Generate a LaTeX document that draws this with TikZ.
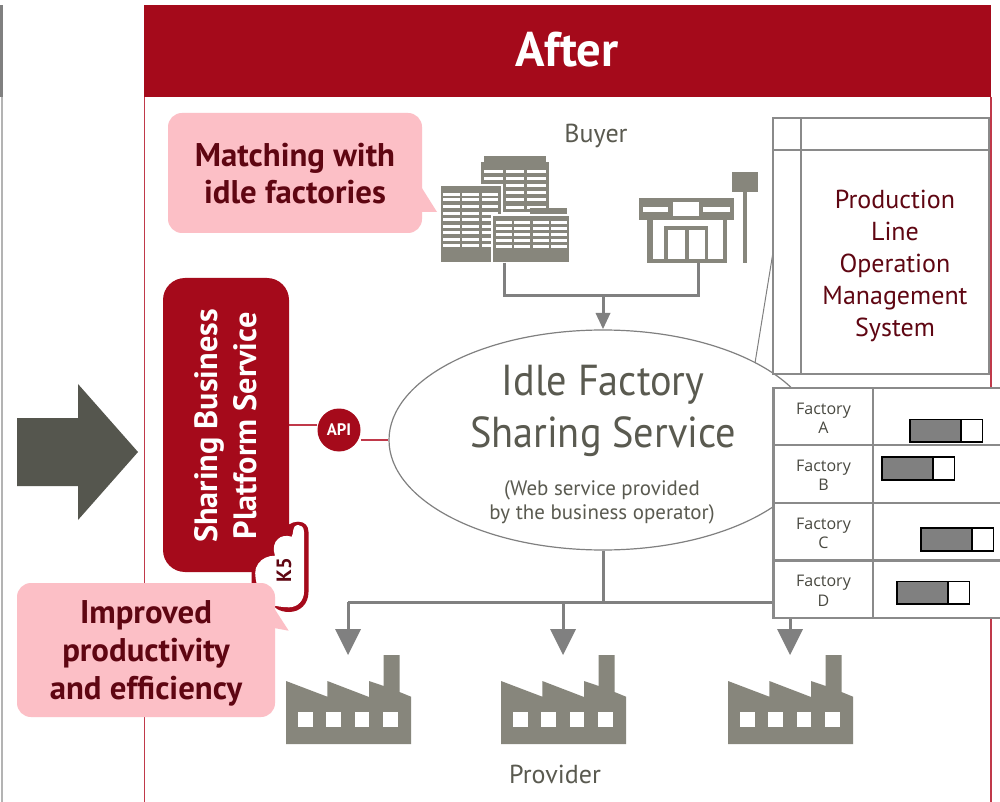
\documentclass[tikz,border=0pt]{standalone}
\usetikzlibrary{shapes.geometric}
\usepackage{fontspec}
\setmainfont{PT Sans}
\newfontfamily\tablefont{Open Sans}
\newfontfamily\narrowfont[FakeStretch=0.93]{PT Sans}
\definecolor{hdr}{HTML}{A50A1B}
\definecolor{pinkb}{HTML}{FCBFC6}
\definecolor{darkred}{HTML}{5F0612}
\definecolor{txtg}{HTML}{5A5A50}
\definecolor{icon}{HTML}{87867C}
\definecolor{arrowg}{HTML}{808080}
\definecolor{tblg}{HTML}{8A8A8A}
\definecolor{bigarrow}{HTML}{55564E}
\definecolor{edge}{HTML}{C0394A}
\tikzset{
  x=0.75pt,y=-0.75pt,
  px/.style={line width=#1*0.75pt},
  feed/.style={draw=arrowg,px=3},
  tbl/.style={draw=tblg,px=2.2},
  bartotal/.style={draw=black,px=1.6,fill=white},
  barfill/.style={draw=black,px=1.6,fill=arrowg},
  plain/.style={inner sep=0pt,outer sep=0pt,align=center},
  tcell/.style={plain,font=\tablefont\fontsize{12}{14.6}\selectfont,text=txtg!80!black},
}
\newcommand{\factoryicon}[1]{%
  \begin{scope}[shift={(#1,0)}]
  \fill[icon] (0,681)--(41.3,696.7)--(41.3,681)--(83,697)--(83,681)--(97.7,686)--(97.7,655)--(113.5,655)--(113.5,692)--(125,696.7)--(125,744)--(0,744)--cycle;
  \foreach \wx in {12.3,40.3,68.7,97}{\fill[white] (\wx,712.3) rectangle ++(14.5,14.4);}
  \end{scope}}
\newcommand{\rowgrid}[4]{% x list, y list, width, height
  \foreach \gx in {#1}{\foreach \gy in {#2}{\fill[white] (\gx,\gy-#4/2) rectangle ++(#3,#4);}}}
\begin{document}
\begin{tikzpicture}
\useasboundingbox (0,0) rectangle (1000,802);
\fill[white] (0,0) rectangle (1000,802);
% left edge
\draw[draw=arrowg!60,px=1.5] (2,97) -- (2,802);
\fill[arrowg] (0,5) rectangle (3,97);
% panel
\draw[edge,px=1.5] (144.5,97) -- (144.5,802);
\draw[edge,px=2] (991,97) -- (991,802);
\fill[hdr] (144,5) rectangle (991,97);
\node[plain,text=white,font=\fontsize{36.5}{40}\bfseries\selectfont] (after) at (567,50) {After};
% big arrow
\fill[bigarrow] (17,418)--(78,418)--(78,384)--(138,452)--(78,520)--(78,486)--(17,486)--cycle;
% ---- buildings
\fill[icon] (484.3,156) rectangle (546,162);
\fill[icon] (481.3,162) rectangle (549.3,212);
\rowgrid{484.3,506,527.3}{171.7,178.3,185.7,192.7,200,207.3}{18.4}{3}
\fill[icon,draw=white,px=2.2] (440,185.3) rectangle (501.7,262.7);
\rowgrid{443.3,462.3,481.7}{194.3,200,207,213.3,219.7,226.3,232.7,239.3,245.7}{16.7}{3}
\fill[icon] (530,207.7) rectangle (567.3,216);
\fill[icon,draw=white,px=2.2] (491.7,215) rectangle (570,262.7);
\rowgrid{495.7,514,532.7,550.7}{222.3,228.3,235,241,246.7}{16}{3}
\fill[white] (438,263.2) rectangle (572,266);
\coordinate (bldg) at (504,262.7);
% ---- store
\fill[icon] (731.7,172) rectangle (758,191.7);
\fill[icon] (743.3,191.7) rectangle (747.3,262.7);
\fill[icon] (639.3,198.3) rectangle (734,220);
\fill[white] (643.3,206.7) rectangle (668.3,211.7);
\fill[white] (672.7,201.7) rectangle (699.3,216);
\fill[white] (703.3,206.7) rectangle (730,211.7);
\fill[icon] (647.3,220) rectangle (652.7,262.7);
\fill[icon] (722.7,220) rectangle (726.7,262.7);
\fill[icon] (647.3,259.3) rectangle (726.7,262.7);
\fill[icon] (664.3,226) rectangle (708.3,262.7);
\fill[white] (668.3,230) rectangle (685,259.3);
\fill[white] (689,230) rectangle (705,259.3);
\coordinate (store) at (698,262.7);
\node[plain,text=txtg,font=\fontsize{19.5}{22}\selectfont] (buyer) at (596,136) {Buyer};
% ---- ellipse
\node[draw=arrowg,fill=white,px=1.2,ellipse,minimum width=428*0.75pt,minimum height=220*0.75pt,inner sep=0pt] (svc) at (603,440) {};
\node[plain,text=txtg,font=\narrowfont\fontsize{32.5}{39}\selectfont] (svct) at (603,411) {Idle Factory\\Sharing Service};
\node[plain,text=txtg,font=\fontsize{15.7}{18}\selectfont] (svcs) at (602,502) {(Web service provided\\by the business operator)};
% buyer feed
\coordinate (busT) at (603,296);
\draw[feed] (bldg) |- (store |- busT) -- (store);
\draw[feed] (busT) -- (603,314);
\fill[arrowg] (595.5,313) -- (610.5,313) -- (603,329) -- cycle;
% ---- production panel
\draw[draw=arrowg,px=1] (775,240) -- (755,363);
\node[draw=tblg,fill=white,px=1.4,minimum width=216*0.75pt,minimum height=256*0.75pt,inner sep=0pt] (prod) at (881,246) {};
\draw[draw=tblg,px=1.2] (801,118) -- (801,374) (773,150) -- (989,150);
\node[plain,text=darkred,font=\fontsize{19.5}{24}\selectfont] (prodt) at (895,266) {Production\\Line\\Operation\\Management\\System};
% ---- provider feed
\coordinate (busB) at (603,602);
\coordinate (drop1) at (348,602);
\coordinate (drop2) at (563,602);
\draw[feed] (svc.south) -- (busB);
\draw[feed] (drop1) -- (773,602);
\draw[feed] (drop1) -- (348,630);
\draw[feed] (drop2) -- (563,630);
\draw[feed] (790,612) -- (790,630);
\foreach \ax in {348,563,790}{\fill[arrowg] (\ax-13,629) -- (\ax+13,629) -- (\ax,655) -- cycle;}
% ---- table
\fill[white] (773.5,388) rectangle (1000,618);
\draw[tbl] (1000,388) -- (773.5,388) -- (773.5,618) -- (1000,618);
\draw[tbl] (773.5,445) -- (1000,445) (773.5,503) -- (1000,503) (773.5,560.5) -- (1000,560.5) (873.3,388) -- (873.3,618);
\node[tcell] (fa) at (823.5,418.5) {Factory\\A};
\node[tcell] (fb) at (823.5,475.5) {Factory\\B};
\node[tcell] (fc) at (823.5,533.5) {Factory\\C};
\node[tcell] (fd) at (823.5,591) {Factory\\D};
\foreach \bx/\by in {910/419.5,882/457,921/528,897/581.5}{
  \draw[bartotal] (\bx,\by) rectangle ++(72.5,22.7);
  \draw[barfill] (\bx,\by) rectangle ++(51,22.7);
}
% ---- factories
\factoryicon{286}
\factoryicon{501}
\factoryicon{728}
\node[plain,text=txtg,font=\fontsize{19.5}{22}\selectfont] (provider) at (555,774) {Provider};
% ---- API
\node[circle,fill=hdr,minimum size=43*0.75pt,inner sep=0pt,text=white,font=\fontsize{12.5}{14}\bfseries\selectfont] (api) at (339,430) {API};
\draw[edge,px=1.4] (289,425) -- (api.west |- 0,425);
\draw[edge,px=1.4] (api.east |- 0,440) -- (svc.west |- 0,440);
% ---- K5 cloud
\fill[hdr] (284,535) -- (284,532) .. controls (284,526) and (292,521.7) .. (298,521.7) .. controls (305,521.7) and (308.5,526) .. (308.5,532) -- (308.5,592) .. controls (308.5,604) and (300,612) .. (289,612) .. controls (280,612) and (273,608) .. (270,600) -- (251.5,585) -- (251.5,565) -- cycle;
\fill[hdr,rounded corners=22*0.75pt] (163,278) rectangle (289,572);
\node[plain,text=white,rotate=90,font=\fontsize{24.2}{29}\bfseries\selectfont] (plat) at (226,426) {Sharing Business\\Platform Service};
\fill[white] (304,532) .. controls (304,527) and (301,525) .. (298.3,525) .. controls (295,525) and (293,528) .. (293.3,530) .. controls (293.3,532) and (292.5,535) .. (291.7,536.7) .. controls (286,535) and (281,536) .. (278,539) .. controls (274,542) and (272.5,549) .. (275,555.7) .. controls (268,555.7) and (262,558.3) .. (258,564) .. controls (254,569) and (255,577) .. (256.7,584) -- (272,605) .. controls (276,606) and (282,607.3) .. (289,607.3) .. controls (298,607.3) and (304,600) .. (304,592) -- cycle;
\node[plain,text=darkred,rotate=90,font=\fontsize{15.5}{17}\bfseries\selectfont] (k5) at (284,570) {K5};
% ---- callouts
\fill[pinkb,rounded corners=14*0.75pt] (168,113) rectangle (422,233);
\fill[pinkb] (420,185) -- (437,212) -- (420,212) -- cycle;
\node[plain,text=darkred,font=\fontsize{24.6}{28}\bfseries\selectfont] (match) at (295,173.5) {Matching with\\idle factories};
\fill[pinkb,rounded corners=14*0.75pt] (17,583) rectangle (275,717);
\fill[pinkb] (274,608) -- (288.7,630.7) -- (274,628) -- cycle;
\node[plain,text=darkred,font=\fontsize{24.6}{28.5}\bfseries\selectfont] (impr) at (146,653) {Improved\\productivity\\and efficiency};
\end{tikzpicture}
\end{document}
